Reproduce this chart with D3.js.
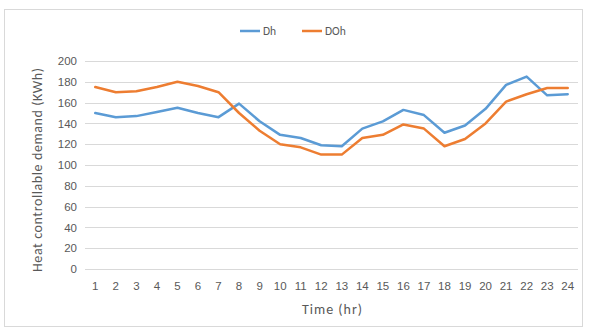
<!DOCTYPE html>
<html>
<head>
<meta charset="utf-8">
<script src="https://cdn.jsdelivr.net/npm/d3@7/dist/d3.min.js"></script>
<style>
  html, body { margin: 0; padding: 0; background: #ffffff; }
  svg { display: block; font-family: Calibri, Carlito, "Liberation Sans", Arial, sans-serif; }
</style>
</head>
<body>
<svg id="chart" width="592" height="332"></svg>
<script>
// Hours of the day
const hours = d3.range(1, 25).map(String);
// Heat controllable demand per hour (kWh)
const dhValues  = [150, 146, 147, 151, 155, 150, 146, 159, 142, 129, 126, 119, 118, 135, 142, 153, 148, 131, 138, 154, 177, 185, 167, 168];
const dohValues = [175, 170, 171, 175, 180, 176, 170, 150, 133, 120, 117, 110, 110, 126, 129, 139, 135, 118, 125, 140, 161, 168, 174, 174];
const yTicks = [0, 20, 40, 60, 80, 100, 120, 140, 160, 180, 200];
const seriesNames = ["Dh", "DOh"];
const seriesColors = ["#5B9BD5", "#ED7D31"];

const svg = d3.select("#chart");
const plot = { left: 85, right: 578, top: 61, bottom: 269 };

// outer chart frame
svg.append("rect")
  .attr("x", 4.5).attr("y", 9.5)
  .attr("width", 578).attr("height", 317)
  .attr("fill", "#ffffff").attr("stroke", "#d9d9d9").attr("stroke-width", 1);

const x = d3.scaleBand().domain(hours).range([plot.left, plot.right]);
const y = d3.scaleLinear().domain([0, 200]).range([plot.bottom, plot.top]);

// horizontal gridlines
svg.append("g")
  .selectAll("line")
  .data(yTicks)
  .join("line")
  .attr("x1", plot.left).attr("x2", plot.right)
  .attr("y1", d => Math.round(y(d)) + 0.5).attr("y2", d => Math.round(y(d)) + 0.5)
  .attr("stroke", "#d9d9d9").attr("stroke-width", 1);

// y axis labels
const yAxis = d3.axisLeft(y).tickValues(yTicks).tickSize(0).tickPadding(8);
const gy = svg.append("g").attr("transform", `translate(${plot.left},0)`).call(yAxis);
gy.select(".domain").remove();
gy.selectAll("text").attr("fill", "#595959").style("font-size", "11.5px");

// x axis labels
const xAxis = d3.axisBottom(x).tickSize(0).tickPadding(13);
const gx = svg.append("g").attr("transform", `translate(0,${plot.bottom})`).call(xAxis);
gx.select(".domain").remove();
gx.selectAll("text").attr("fill", "#595959").style("font-size", "11.5px");

// axis titles
svg.append("text")
  .attr("x", 332).attr("y", 314)
  .attr("text-anchor", "middle")
  .attr("fill", "#595959").style("font-size", "14px")
  .attr("textLength", 60)
  .text("Time (hr)");

svg.append("text")
  .attr("transform", `translate(42,170) rotate(-90)`)
  .attr("text-anchor", "middle")
  .attr("fill", "#595959").style("font-size", "14px")
  .attr("textLength", 204)
  .text("Heat controllable demand (KWh)");

// series lines
const line = d3.line()
  .x((d, i) => x(hours[i]) + x.bandwidth() / 2)
  .y(d => y(d));

[dhValues, dohValues].forEach((vals, k) => {
  svg.append("path")
    .datum(vals)
    .attr("d", line)
    .attr("fill", "none")
    .attr("stroke", seriesColors[k])
    .attr("stroke-width", 2.5)
    .attr("stroke-linejoin", "round")
    .attr("stroke-linecap", "round");
});

// legend
const legendX = [240, 302];
seriesNames.forEach((name, k) => {
  const g = svg.append("g").attr("transform", `translate(${legendX[k]},31)`);
  g.append("line").attr("x1", 0).attr("x2", 20).attr("y1", 0).attr("y2", 0)
    .attr("stroke", seriesColors[k]).attr("stroke-width", 2.5);
  g.append("text").attr("x", 23).attr("y", 4)
    .attr("fill", "#595959").style("font-size", "11.5px")
    .text(name);
});
</script>
</body>
</html>
